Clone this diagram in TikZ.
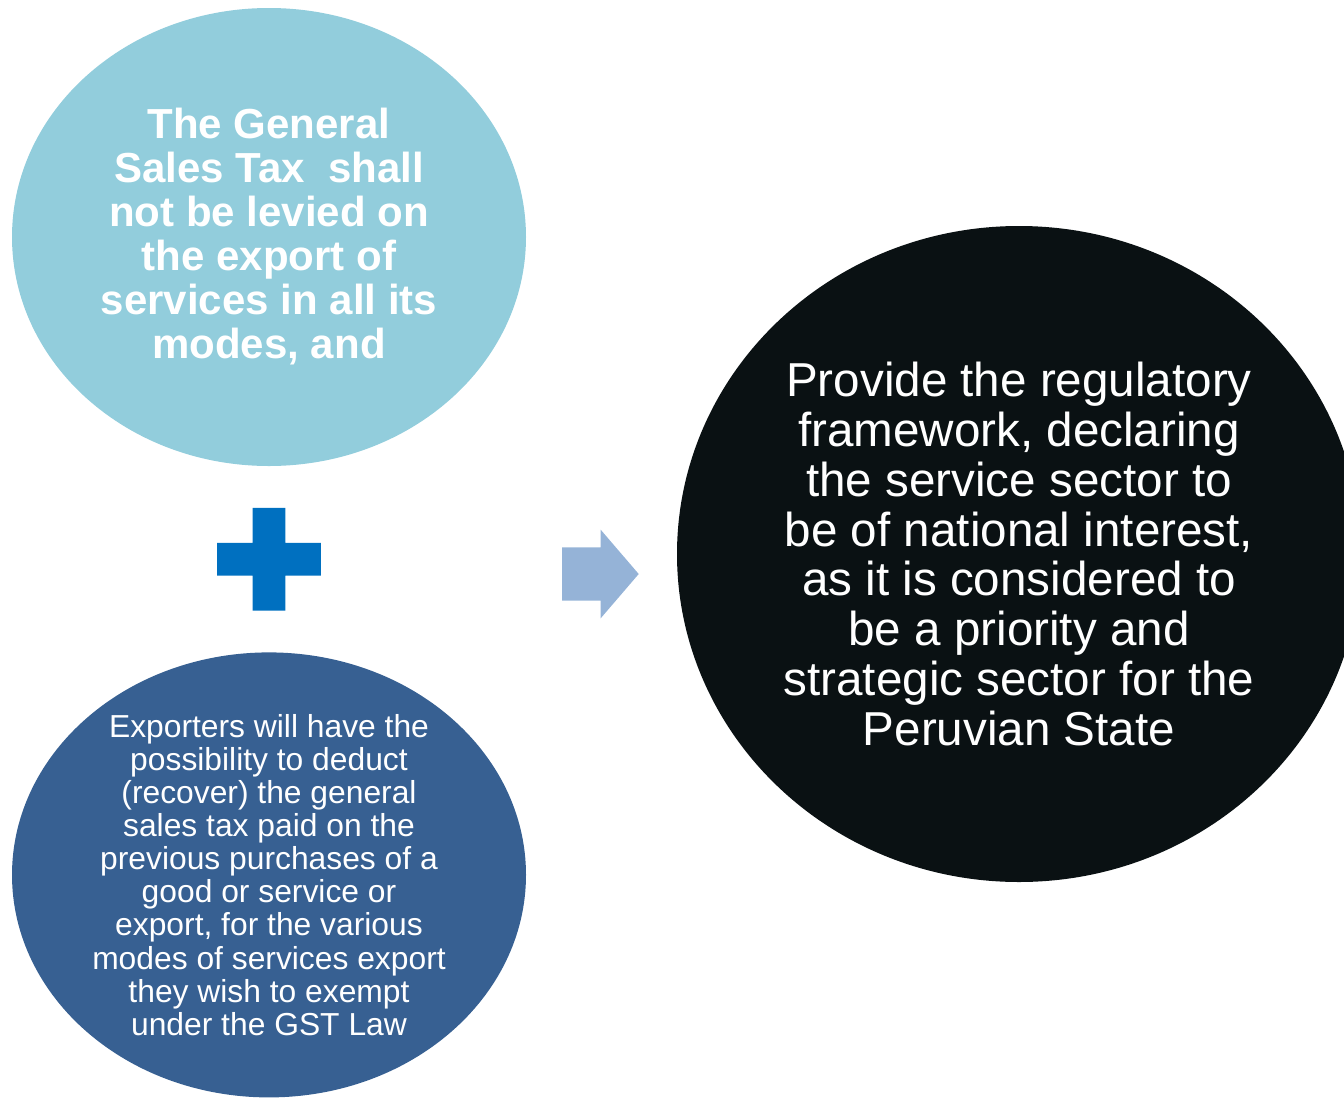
\documentclass[tikz,border=0pt]{standalone}
\usepackage{fontspec}
\setmainfont{Liberation Sans}
\usetikzlibrary{positioning,calc,shapes.geometric}

\definecolor{aquablob}{HTML}{92CDDC}
\definecolor{navyblob}{HTML}{376092}
\definecolor{darkblob}{HTML}{0A1113}
\definecolor{plusblue}{HTML}{0070C0}
\definecolor{arrowblue}{HTML}{95B3D7}

\tikzset{
    blob/.style={ellipse,inner sep=0pt,draw=none},
    blobtext/.style={align=center,text=white,inner sep=0pt}
}

\begin{document}
\begin{tikzpicture}[x=1pt,y=-1pt]
    \useasboundingbox (0,0) rectangle (1344,1098);
    \clip (0,0) rectangle (1344,1098);

    \draw
        node[blob,fill=aquablob,minimum width=514pt,minimum height=458pt] (tax) at (269,237) {}
        node[blob,fill=navyblob,below=186pt of tax,minimum width=514pt,minimum height=445pt] (recover) {}
        node[blob,fill=darkblob,minimum width=684pt,minimum height=656pt] (frame) at (1019,554) {}

        node[blobtext,font=\bfseries\fontsize{42}{44}\selectfont] (taxtext) at (tax.center)
            {The General\\Sales Tax\ \ shall\\not be levied on\\the export of\\services in all its\\modes, and}
        node[blobtext,font=\fontsize{31.8}{33.1}\selectfont] (recovertext) at (recover.center)
            {Exporters will have the\\possibility to deduct\\(recover) the general\\sales tax paid on the\\previous purchases of a\\good or service or\\export, for the various\\modes of services export\\they wish to exempt\\under the GST Law}
        node[blobtext,font=\fontsize{47.6}{49.9}\selectfont] (frametext) at (frame.center)
            {Provide the regulatory\\framework, declaring\\the service sector to\\be of national interest,\\as it is considered to\\be a priority and\\strategic sector for the\\Peruvian State}
    ;

    % plus sign between the two left blobs
    \coordinate (plusc) at ($(tax.south)!0.5!(recover.north)$);
    \fill[plusblue] ($(plusc)+(-51.8,-16.3)$) rectangle ($(plusc)+(51.8,16.3)$)
                    ($(plusc)+(-16.3,-51.3)$) rectangle ($(plusc)+(16.3,51.3)$);

    % block arrow towards the right blob
    \coordinate (arrowc) at (600.5,574);
    \fill[arrowblue] ($(arrowc)+(-38.5,-26.7)$) -- ($(arrowc)+(0,-26.7)$) -- ($(arrowc)+(0,-44.5)$)
        -- ($(arrowc)+(38.2,0)$) -- ($(arrowc)+(0,44.5)$) -- ($(arrowc)+(0,26.7)$)
        -- ($(arrowc)+(-38.5,26.7)$) -- cycle;
\end{tikzpicture}
\end{document}
